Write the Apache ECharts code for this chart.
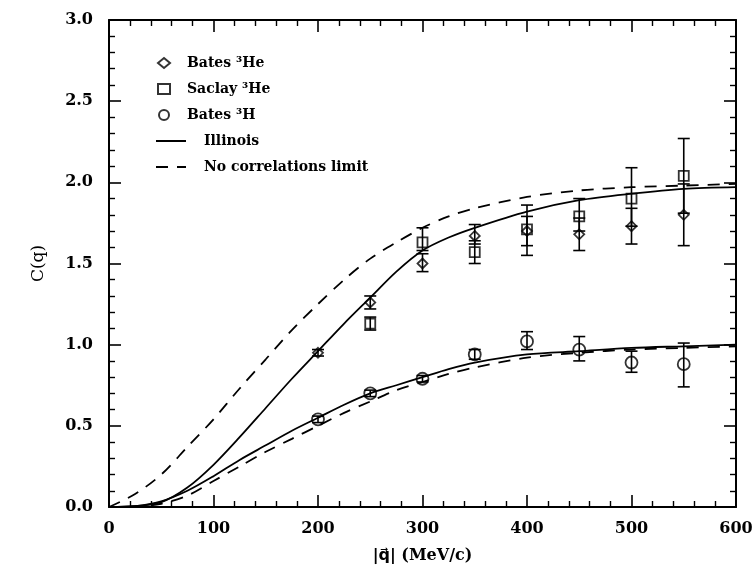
<!DOCTYPE html>
<html><head><meta charset="utf-8">
<script src="https://cdn.jsdelivr.net/npm/echarts@6/dist/echarts.min.js"></script>
<style>html,body{margin:0;padding:0;background:#fff}#c{width:756px;height:574px}</style>
</head><body><div id="c"></div>
<script>
// Theory curves
const curveQ = [0,25,50,75,100,125,150,175,200,225,250,275,300,325,350,400,450,500,550,600];
const illinois3He = [0,0.005,0.03,0.12,0.26,0.43,0.61,0.79,0.96,1.13,1.29,1.45,1.58,1.66,1.72,1.82,1.89,1.93,1.96,1.97];
const noCorr3He = [0,0.08,0.20,0.37,0.54,0.73,0.91,1.09,1.25,1.40,1.53,1.63,1.72,1.79,1.84,1.91,1.95,1.97,1.98,1.99];
const illinois3H = [0,0.005,0.035,0.10,0.19,0.29,0.38,0.47,0.55,0.63,0.70,0.75,0.80,0.85,0.89,0.94,0.96,0.98,0.99,1.00];
const noCorr3H = [0,0.003,0.02,0.07,0.16,0.25,0.34,0.42,0.50,0.58,0.65,0.72,0.77,0.82,0.86,0.92,0.95,0.97,0.98,0.99];

// Data: Bates 3He
const batesHeQ = [200,250,300,350,400,450,500,550];
const batesHeC = [0.95,1.26,1.50,1.67,1.70,1.68,1.73,1.80];
const batesHeLow = [0.93,1.22,1.45,1.62,1.61,1.58,1.62,1.61];
const batesHeHigh = [0.97,1.30,1.56,1.74,1.79,1.78,1.84,1.99];
// Saclay 3He
const saclayHeQ = [250,300,350,400,450,500,550];
const saclayHeC = [1.13,1.63,1.57,1.71,1.79,1.90,2.04];
const saclayHeLow = [1.09,1.58,1.50,1.55,1.70,1.73,1.81];
const saclayHeHigh = [1.17,1.72,1.64,1.86,1.90,2.09,2.27];
// Bates 3H
const batesHQ = [200,250,300,350,400,450,500,550];
const batesHC = [0.54,0.70,0.79,0.94,1.02,0.97,0.89,0.88];
const batesHLow = [0.52,0.68,0.77,0.91,0.97,0.90,0.83,0.74];
const batesHHigh = [0.56,0.72,0.81,0.97,1.08,1.05,0.96,1.01];

const xTicks = [0,100,200,300,400,500,600];
const yTicks = [0,0.5,1.0,1.5,2.0,2.5,3.0];

const FONT = 'DejaVu Serif';
const pairs = (xs, ys) => xs.map((x,i)=>[x, ys[i]]);
const errData = (xs, lo, hi) => xs.map((x,i)=>[x, lo[i], hi[i]]);

function errSeries(data){
  return {
    type:'custom', silent:true, z:3,
    renderItem(params, api){
      const x = api.value(0);
      const lo = api.coord([x, api.value(1)]);
      const hi = api.coord([x, api.value(2)]);
      const w = 6;
      const st = {stroke:'#000', lineWidth:1.6};
      return {type:'group', children:[
        {type:'line', shape:{x1:lo[0], y1:lo[1], x2:hi[0], y2:hi[1]}, style:st},
        {type:'line', shape:{x1:lo[0]-w, y1:lo[1], x2:lo[0]+w, y2:lo[1]}, style:st},
        {type:'line', shape:{x1:hi[0]-w, y1:hi[1], x2:hi[0]+w, y2:hi[1]}, style:st}
      ]};
    },
    encode:{x:0, y:[1,2]},
    data
  };
}

function lineSeries(name, ys, dashed){
  return {
    name, type:'line', data: pairs(curveQ, ys), smooth:0.3, showSymbol:false, symbol:'none',
    lineStyle:{color:'#000', width:1.8, type: dashed ? [12,9] : 'solid'},
    itemStyle:{color:'rgba(0,0,0,0)'}, z:2
  };
}

function scatterSeries(name, xs, ys, symbol, size){
  return {
    name, type:'scatter', data: pairs(xs, ys), symbol, symbolSize:size,
    itemStyle:{color:'rgba(255,255,255,0)', borderColor:'#000', borderWidth:1.8}, z:4
  };
}

const axisLineStyle = {onZero:false, lineStyle:{color:'#000', width:2}};
const labelStyle = {color:'#000', fontFamily:FONT, fontWeight:'bold', fontSize:16};
const tickStyle = {inside:true, length:12, lineStyle:{color:'#000', width:1.6}};
const minorStyle = {show:true, splitNumber:5, length:6, lineStyle:{color:'#000', width:1.4}};

const option = {
  animation:false,
  backgroundColor:'#fff',
  grid:{left:109, right:20, top:20, bottom:67},
  legend:[
    {
      orient:'vertical', left:152, top:51, itemWidth:12, itemHeight:10, itemGap:12,
      data:['Bates ³He','Saclay ³He','Bates ³H'],
      textStyle:{color:'#000', fontFamily:FONT, fontWeight:'bold', fontSize:14, padding:[0,0,0,12]},
      selectedMode:false
    },
    {
      orient:'vertical', left:150, top:129, itemWidth:30, itemHeight:10, itemGap:12,
      data:['Illinois','No correlations limit'],
      itemStyle:{color:'rgba(0,0,0,0)', borderWidth:0, opacity:0},
      textStyle:{color:'#000', fontFamily:FONT, fontWeight:'bold', fontSize:14, padding:[0,0,0,13]},
      selectedMode:false
    }
  ],
  xAxis:[
    {
      type:'value', min:0, max:600, interval:100, position:'bottom',
      name:'{q||q\u20D7|}{u| (MeV/c)}', nameLocation:'middle', nameGap:41,
      nameTextStyle:{color:'#000', fontSize:16, rich:{
        q:{color:'#000', fontFamily:'DejaVu Sans', fontWeight:'bold', fontSize:16},
        u:{color:'#000', fontFamily:FONT, fontWeight:'bold', fontSize:16}
      }},
      axisLine:axisLineStyle, axisTick:tickStyle, minorTick:minorStyle,
      axisLabel:{...labelStyle, margin:14, formatter:v=> xTicks.includes(v) ? String(v) : ''},
      splitLine:{show:false}
    },
    {
      type:'value', min:0, max:600, interval:100, position:'top',
      axisLine:axisLineStyle, axisTick:tickStyle, minorTick:minorStyle,
      axisLabel:{show:false}, splitLine:{show:false}
    }
  ],
  yAxis:[
    {
      type:'value', min:0, max:3, interval:0.5, position:'left',
      name:'C(q)', nameLocation:'middle', nameGap:62, nameRotate:90,
      nameTextStyle:{color:'#000', fontFamily:FONT, fontSize:17},
      axisLine:axisLineStyle, axisTick:tickStyle, minorTick:minorStyle,
      axisLabel:{...labelStyle, margin:16, formatter:v=> yTicks.some(t=>Math.abs(t-v)<1e-9) ? v.toFixed(1) : ''},
      splitLine:{show:false}
    },
    {
      type:'value', min:0, max:3, interval:0.5, position:'right',
      axisLine:axisLineStyle, axisTick:tickStyle, minorTick:minorStyle,
      axisLabel:{show:false}, splitLine:{show:false}
    }
  ],
  series:[
    lineSeries('Illinois', illinois3He, false),
    lineSeries('Illinois', illinois3H, false),
    lineSeries('No correlations limit', noCorr3He, true),
    lineSeries('No correlations limit', noCorr3H, true),
    errSeries(errData(batesHeQ, batesHeLow, batesHeHigh)),
    errSeries(errData(saclayHeQ, saclayHeLow, saclayHeHigh)),
    errSeries(errData(batesHQ, batesHLow, batesHHigh)),
    scatterSeries('Bates ³He', batesHeQ, batesHeC, 'diamond', 10),
    scatterSeries('Saclay ³He', saclayHeQ, saclayHeC, 'rect', 10),
    scatterSeries('Bates ³H', batesHQ, batesHC, 'circle', 12)
  ]
};
const chart = echarts.init(document.getElementById('c'), null, {renderer:'canvas'});
chart.setOption(option);
</script>
</body></html>
